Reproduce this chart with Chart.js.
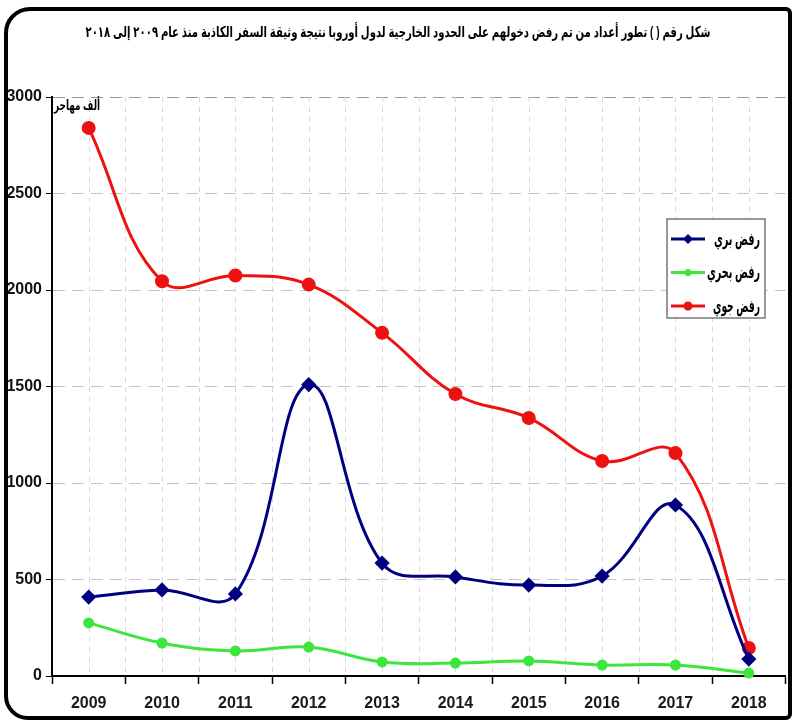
<!DOCTYPE html>
<html>
<head>
<meta charset="utf-8">
<script src="https://cdn.jsdelivr.net/npm/chart.js@4"></script>
<style>
  html, body { margin: 0; padding: 0; background: #fff; }
  #wrap { width: 794px; height: 723px; position: relative; }
</style>
</head>
<body>
<div id="wrap"><canvas id="chart" width="794" height="723"></canvas></div>
<script>
const years = ["2009", "2010", "2011", "2012", "2013", "2014", "2015", "2016", "2017", "2018"];
const landRefused = [409, 446, 425, 1510, 585, 513, 471, 518, 886, 88];
const seaRefused = [275, 171, 130, 150, 73, 67, 78, 57, 57, 15];
const airRefused = [2840, 2045, 2075, 2028, 1778, 1461, 1337, 1114, 1155, 145];
const seriesNames = ["رفض بري", "رفض بحري", "رفض جوي"];
const seriesColors = ["#000080", "#3ce63c", "#ee1111"];
const yTicks = [0, 500, 1000, 1500, 2000, 2500, 3000];

const titleText = "شكل رقم ( ) تطور أعداد من تم رفض دخولهم على الحدود الخارجية لدول أوروبا نتيجة وثيقة السفر الكاذبة منذ عام ٢٠٠٩ إلى ٢٠١٨";
const unitText = "ألف مهاجر";
const font = '"Liberation Sans Narrow", "Liberation Sans", Arial, "DejaVu Sans", sans-serif';

// vertical dashed lines at each year and between years
const vGrid = {
    id: 'vGrid',
    beforeDatasetsDraw(chart) {
        const ctx = chart.ctx, x = chart.scales.x, a = chart.chartArea;
        const half = (x.getPixelForTick(1) - x.getPixelForTick(0)) / 2;
        ctx.save();
        ctx.strokeStyle = '#d8d8d8';
        ctx.lineWidth = 1;
        ctx.setLineDash([5, 5]);
        for (let i = 0; i < years.length; i++) {
            const px = x.getPixelForTick(i);
            [px, px + half].forEach(p => {
                if (p < a.right - 1) {
                    ctx.beginPath();
                    ctx.moveTo(Math.round(p) + 0.5, a.top);
                    ctx.lineTo(Math.round(p) + 0.5, a.bottom);
                    ctx.stroke();
                }
            });
        }
        ctx.restore();
    }
};

const decor = {
    id: 'decor',
    afterDraw(chart) {
        const ctx = chart.ctx;
        ctx.save();
        // title
        ctx.fillStyle = '#000';
        ctx.font = 'bold 15px ' + font;
        ctx.textAlign = 'center';
        ctx.textBaseline = 'middle';
        ctx.direction = 'rtl';
        ctx.fillText(titleText, 398, 33, 625);
        // unit label
        ctx.font = 'bold 14px ' + font;
        ctx.fillText(unitText, 77, 106, 46);
        // legend box
        const bx = 667, by = 219, bw = 98, bh = 99;
        ctx.fillStyle = '#fff';
        ctx.fillRect(bx, by, bw, bh);
        ctx.strokeStyle = '#777';
        ctx.lineWidth = 1.5;
        ctx.setLineDash([]);
        ctx.strokeRect(bx, by, bw, bh);
        ctx.font = 'bold 18px ' + font;
        ctx.textAlign = 'right';
        const widths = [46, 53, 47];
        seriesNames.forEach((name, i) => {
            const y = by + 20 + i * 33.5;
            ctx.strokeStyle = seriesColors[i];
            ctx.lineWidth = 3;
            ctx.beginPath();
            ctx.moveTo(bx + 4, y);
            ctx.lineTo(bx + 38, y);
            ctx.stroke();
            ctx.fillStyle = seriesColors[i];
            ctx.beginPath();
            if (i === 0) {
                ctx.moveTo(bx + 21, y - 5); ctx.lineTo(bx + 26, y);
                ctx.lineTo(bx + 21, y + 5); ctx.lineTo(bx + 16, y);
                ctx.closePath();
            } else {
                ctx.arc(bx + 21, y, i === 1 ? 3.5 : 4.5, 0, Math.PI * 2);
            }
            ctx.fill();
            ctx.fillStyle = '#000';
            ctx.fillText(name, bx + bw - 5, y + 1, widths[i]);
        });
        // frame
        ctx.strokeStyle = '#000';
        ctx.lineWidth = 4;
        ctx.beginPath();
        ctx.roundRect(6, 9, 784, 709, [24, 4, 4, 22]);
        ctx.stroke();
        ctx.restore();
    }
};

new Chart(document.getElementById('chart'), {
    type: 'line',
    data: {
        labels: years,
        datasets: [landRefused, seaRefused, airRefused].map((d, i) => ({
            label: seriesNames[i],
            data: d,
            borderColor: seriesColors[i],
            backgroundColor: seriesColors[i],
            borderWidth: 3,
            tension: 0.4,
            pointStyle: i === 0 ? 'rectRot' : 'circle',
            pointRadius: i === 1 ? 4 : 5.5,
            clip: false
        }))
    },
    options: {
        responsive: false,
        animation: false,
        layout: { padding: { top: 97, left: 0, right: 0, bottom: 0 } },
        plugins: {
            legend: { display: false },
            title: { display: false },
            tooltip: { enabled: false }
        },
        scales: {
            x: {
                offset: true,
                afterFit(s) { s.height = 47; },
                grid: {
                    offset: true,
                    drawOnChartArea: false,
                    tickLength: 8,
                    tickColor: '#000',
                    tickWidth: 1.5
                },
                border: { color: '#000', width: 2 },
                ticks: {
                    color: '#1a1a1a',
                    padding: 10,
                    font: { family: font, size: 16, weight: 'bold' }
                }
            },
            y: {
                min: 0,
                max: 3000,
                afterFit(s) { s.width = 52; },
                afterBuildTicks(s) { s.ticks = yTicks.map(v => ({ value: v })); },
                grid: {
                    color: ctx => ctx.tick && ctx.tick.value === 3000 ? '#999' : '#c4c4c4',
                    lineWidth: 1,
                    tickLength: 6,
                    tickColor: '#000',
                    tickBorderDash: []
                },
                border: { color: '#000', width: 2, dash: [12, 7] },
                ticks: {
                    color: '#111',
                    padding: 4,
                    callback: v => String(v),
                    font: { family: font, size: 16, weight: 'bold' }
                }
            }
        }
    },
    plugins: [vGrid, decor]
});
</script>
</body>
</html>
